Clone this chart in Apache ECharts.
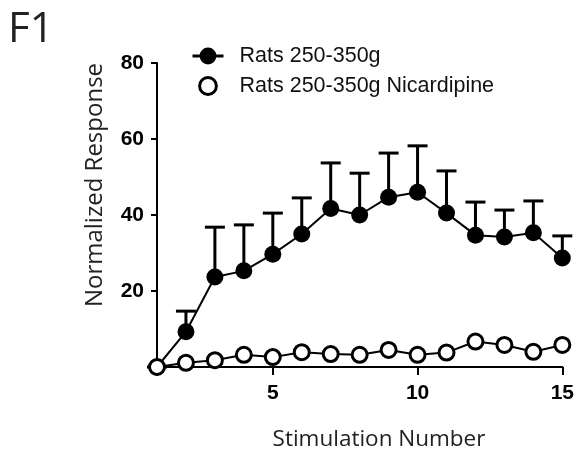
<!DOCTYPE html>
<html>
<head>
<meta charset="utf-8">
<script src="https://cdn.jsdelivr.net/npm/echarts@6/dist/echarts.min.js"></script>
<style>
  html, body { margin: 0; padding: 0; background: #fff; }
  #chart { width: 577px; height: 457px; }
</style>
</head>
<body>
<div id="chart"></div>
<script>
// stimulation numbers
var stimNum = [1, 2, 3, 4, 5, 6, 7, 8, 9, 10, 11, 12, 13, 14, 15]
// Rats 250-350g : mean and upper error
var ratsMean = [0, 9.3, 23.7, 25.3, 29.7, 35, 41.7, 40, 44.7, 46, 40.5, 34.7, 34.2, 35.3, 28.7]
var ratsErr = [0, 5.4, 13.1, 12.1, 10.8, 9.5, 12, 11, 11.6, 12.2, 11.1, 8.7, 7.1, 8.4, 5.8]
// Rats 250-350g Nicardipine
var nicaMean = [0, 1.1, 1.8, 3.2, 2.6, 3.9, 3.4, 3.2, 4.5, 3.2, 3.8, 6.7, 5.8, 4, 5.8]
var xTicks = [5, 10, 15]
var yTicks = [20, 40, 60, 80]

var chart = echarts.init(document.getElementById('chart'))

var ratsData = stimNum.map(function (x, i) { return [x, ratsMean[i]] })
var nicaData = stimNum.map(function (x, i) { return [x, nicaMean[i]] })
var errData = stimNum.map(function (x, i) { return [x, ratsMean[i], ratsMean[i] + ratsErr[i]] })

var tickFont = { fontFamily: 'Liberation Sans, Arial', fontWeight: 'bold', fontSize: 21, color: '#000' }

chart.setOption({
  animation: false,
  grid: { left: 157, right: 12, top: 63, bottom: 90 },
  legend: {
    orient: 'vertical',
    left: 186,
    top: 40,
    itemWidth: 31,
    itemHeight: 21,
    itemGap: 8,
    textStyle: { fontFamily: 'Liberation Sans, Arial', fontSize: 21.5, color: '#111', padding: [0, 0, 0, 11] },
    data: [
      { name: 'Rats 250-350g', lineStyle: { width: 3 } },
      { name: 'Rats 250-350g Nicardipine', lineStyle: { width: 0, opacity: 0 }, itemStyle: { borderWidth: 3 } }
    ]
  },
  xAxis: {
    type: 'value',
    min: 1,
    max: 15,
    splitLine: { show: false },
    axisLine: { lineStyle: { color: '#000', width: 2 } },
    axisTick: { customValues: xTicks, length: 8, lineStyle: { color: '#000', width: 2 } },
    axisLabel: Object.assign({ customValues: xTicks, margin: 16 }, tickFont)
  },
  yAxis: {
    type: 'value',
    min: 0,
    max: 80,
    splitLine: { show: false },
    axisLine: { show: true, lineStyle: { color: '#000', width: 2 } },
    axisTick: { show: true, customValues: yTicks, length: 6, lineStyle: { color: '#000', width: 2 } },
    axisLabel: Object.assign({ customValues: yTicks, margin: 13 }, tickFont)
  },
  graphic: [
    {
      type: 'text', left: 8, top: 9,
      style: { text: 'F1', font: '42px "Open Sans"', fill: '#222' }
    },
    {
      type: 'text', x: 95, y: 185, rotation: Math.PI / 2,
      style: { text: 'Normalized Response', font: '24px "Open Sans"', fill: '#222', align: 'center', verticalAlign: 'middle' }
    },
    {
      type: 'text', x: 379, y: 440,
      style: { text: 'Stimulation Number', font: '22.5px "Open Sans"', fill: '#222', align: 'center', verticalAlign: 'middle' }
    }
  ],
  series: [
    {
      type: 'custom',
      name: 'err',
      clip: false,
      data: errData,
      renderItem: function (params, api) {
        var p0 = api.coord([api.value(0), api.value(1)])
        var p1 = api.coord([api.value(0), api.value(2)])
        return {
          type: 'group',
          children: [
            { type: 'line', shape: { x1: p0[0], y1: p0[1], x2: p1[0], y2: p1[1] }, style: { stroke: '#000', lineWidth: 3 } },
            { type: 'line', shape: { x1: p1[0] - 10, y1: p1[1], x2: p1[0] + 10, y2: p1[1] }, style: { stroke: '#000', lineWidth: 3 } }
          ]
        }
      }
    },
    {
      name: 'Rats 250-350g',
      type: 'line',
      clip: false,
      data: ratsData,
      symbol: 'circle',
      symbolSize: 17,
      itemStyle: { color: '#000' },
      lineStyle: { color: '#000', width: 2 }
    },
    {
      name: 'Rats 250-350g Nicardipine',
      type: 'line',
      clip: false,
      data: nicaData,
      symbol: 'circle',
      symbolSize: 15,
      itemStyle: { color: '#fff', borderColor: '#000', borderWidth: 3 },
      lineStyle: { color: '#000', width: 2 }
    }
  ]
})
</script>
</body>
</html>
